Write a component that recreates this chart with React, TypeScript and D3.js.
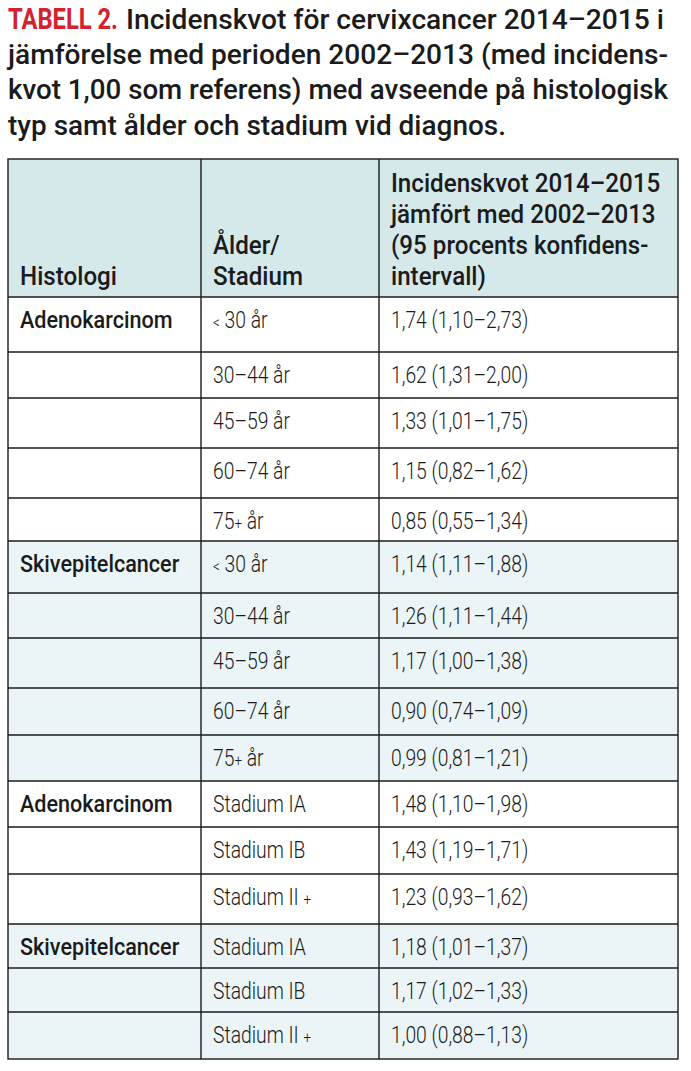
import React from "react";
import * as d3 from "d3";

// ---------- data ----------
const histologi = [
  "Adenokarcinom", "", "", "", "",
  "Skivepitelcancer", "", "", "", "",
  "Adenokarcinom", "", "",
  "Skivepitelcancer", "", "",
];
const groupIndex = [0, 0, 0, 0, 0, 1, 1, 1, 1, 1, 2, 2, 2, 3, 3, 3];
const alderStadium = [
  "< 30 år", "30–44 år", "45–59 år", "60–74 år", "75+ år",
  "< 30 år", "30–44 år", "45–59 år", "60–74 år", "75+ år",
  "Stadium IA", "Stadium IB", "Stadium II +",
  "Stadium IA", "Stadium IB", "Stadium II +",
];
const kvot = [1.74, 1.62, 1.33, 1.15, 0.85, 1.14, 1.26, 1.17, 0.9, 0.99, 1.48, 1.43, 1.23, 1.18, 1.17, 1.0];
const ciLow = [1.1, 1.31, 1.01, 0.82, 0.55, 1.11, 1.11, 1.0, 0.74, 0.81, 1.1, 1.19, 0.93, 1.01, 1.02, 0.88];
const ciHigh = [2.73, 2.0, 1.75, 1.62, 1.34, 1.88, 1.44, 1.38, 1.09, 1.21, 1.98, 1.71, 1.62, 1.37, 1.33, 1.13];

const titleLabel = "TABELL 2.";
const titleLines = [
  "Incidenskvot för cervixcancer 2014–2015 i",
  "jämförelse med perioden 2002–2013 (med incidens-",
  "kvot 1,00 som referens) med avseende på histologisk",
  "typ samt ålder och stadium vid diagnos.",
];
const headerCol1 = ["Histologi"];
const headerCol2 = ["Ålder/", "Stadium"];
const headerCol3 = [
  "Incidenskvot 2014–2015",
  "jämfört med 2002–2013",
  "(95 procents konfidens-",
  "intervall)",
];

// ---------- layout ----------
const W = 691;
const H = 1071;
const tableLeft = 8;
const tableRight = 678;
const tableTop = 159;
const headerBottom = 297;
const colEdges = [tableLeft, 201, 379, tableRight];
const rowHeights = [55, 46, 50, 50, 43, 52, 45, 50, 47, 46, 46, 47, 50, 44, 44, 47];
const titleWidths = [538, 660, 660, 498];
const titleX = [126, 8, 8, 8];
const titleY = [29, 64, 99, 135];

const FONT = "Roboto, 'Liberation Sans', sans-serif";
const INK = "#1b1b1b";
const HEADER_BG = "#d5e8ea";
const ALT_BG = "#ebf5f7";
const RED = "#d3222e";

const fmt2 = d3.format(".2f");
const sv = (v: number) => fmt2(v).replace(".", ",");

function T(props: any) {
  const { x, y, sx = 1, children, ...rest } = props;
  return (
    <text transform={`translate(${x},${y}) scale(${sx},1)`} {...rest}>
      {children}
    </text>
  );
}

export default function App() {
  const edges: number[] = Array.from(d3.cumsum([headerBottom, ...rowHeights]));
  const bottom = edges[edges.length - 1];
  const padX = 12;
  const bodySx = 0.84;
  const headSx = 0.93;
  const boldSx = 0.9;

  const valueText = kvot.map((k, i) => `${sv(k)} (${sv(ciLow[i])}–${sv(ciHigh[i])})`);

  return (
    <svg
      width={W}
      height={H}
      viewBox={`0 0 ${W} ${H}`}
      style={{ position: "absolute", left: 0, top: 0, background: "#fff" }}
      fontFamily={FONT}
    >
      <rect x={0} y={0} width={W} height={H} fill="#fff" />
      {/* Title */}
      <g fill={INK}>
        <text x={8} y={29} fontSize={29} fontWeight={700} fill={RED} textLength={110} lengthAdjust="spacingAndGlyphs">
          {titleLabel}
        </text>
        {titleLines.map((t, i) => (
          <text
            key={"t" + i}
            x={titleX[i]}
            y={titleY[i]}
            fontSize={28}
            fontWeight={500}
            textLength={titleWidths[i]}
            lengthAdjust="spacingAndGlyphs"
          >
            {t}
          </text>
        ))}
      </g>

      {/* Header background */}
      <rect x={tableLeft} y={tableTop} width={tableRight - tableLeft} height={headerBottom - tableTop} fill={HEADER_BG} />

      {/* Row backgrounds */}
      {rowHeights.map((h, i) => (
        <rect
          key={"bg" + i}
          x={tableLeft}
          y={edges[i]}
          width={tableRight - tableLeft}
          height={h}
          fill={groupIndex[i] % 2 === 1 ? ALT_BG : "#ffffff"}
        />
      ))}

      {/* Header text */}
      <g fill={INK} fontSize={26} fontWeight={500}>
        {headerCol1.map((t, j) => (
          <T key={"h1" + j} sx={headSx} x={colEdges[0] + padX} y={285 - (headerCol1.length - 1 - j) * 31}>{t}</T>
        ))}
        {headerCol2.map((t, j) => (
          <T key={"h2" + j} sx={headSx} x={colEdges[1] + padX} y={285 - (headerCol2.length - 1 - j) * 31}>{t}</T>
        ))}
        {headerCol3.map((t, j) => (
          <T key={"h3" + j} sx={headSx} x={colEdges[2] + padX} y={285 - (headerCol3.length - 1 - j) * 31}>{t}</T>
        ))}
      </g>

      {/* Body text */}
      <g fill={INK} fontSize={23}>
        {histologi.map((t, i) =>
          t ? (
            <T key={"c1" + i} sx={boldSx} x={colEdges[0] + padX} y={edges[i] + 31} fontSize={24} fontWeight={500}>{t}</T>
          ) : null
        )}
        {alderStadium.map((t, i) => {
          const small = t.startsWith("<");
          const plus = t.indexOf("+");
          return (
            <T key={"c2" + i} sx={bodySx} x={colEdges[1] + padX} y={edges[i] + 31} fontWeight={300}>
              {small ? (
                <>
                  <tspan fontSize={16}>{"<"}</tspan>
                  <tspan>{t.slice(1)}</tspan>
                </>
              ) : plus >= 0 ? (
                <>
                  <tspan>{t.slice(0, plus)}</tspan>
                  <tspan fontSize={16}>+</tspan>
                  <tspan>{t.slice(plus + 1)}</tspan>
                </>
              ) : (
                t
              )}
            </T>
          );
        })}
        {valueText.map((t, i) => (
          <T key={"c3" + i} sx={bodySx} x={colEdges[2] + padX} y={edges[i] + 31} fontWeight={300}>{t}</T>
        ))}
      </g>

      {/* Grid lines */}
      <g stroke={INK} strokeWidth={1.4} fill="none">
        <rect x={tableLeft} y={tableTop} width={tableRight - tableLeft} height={bottom - tableTop} />
        {edges.slice(0, -1).map((y, i) => (
          <line key={"hl" + i} x1={tableLeft} x2={tableRight} y1={y} y2={y} />
        ))}
        {colEdges.slice(1, -1).map((x, i) => (
          <line key={"vl" + i} x1={x} x2={x} y1={tableTop} y2={bottom} />
        ))}
      </g>
    </svg>
  );
}
